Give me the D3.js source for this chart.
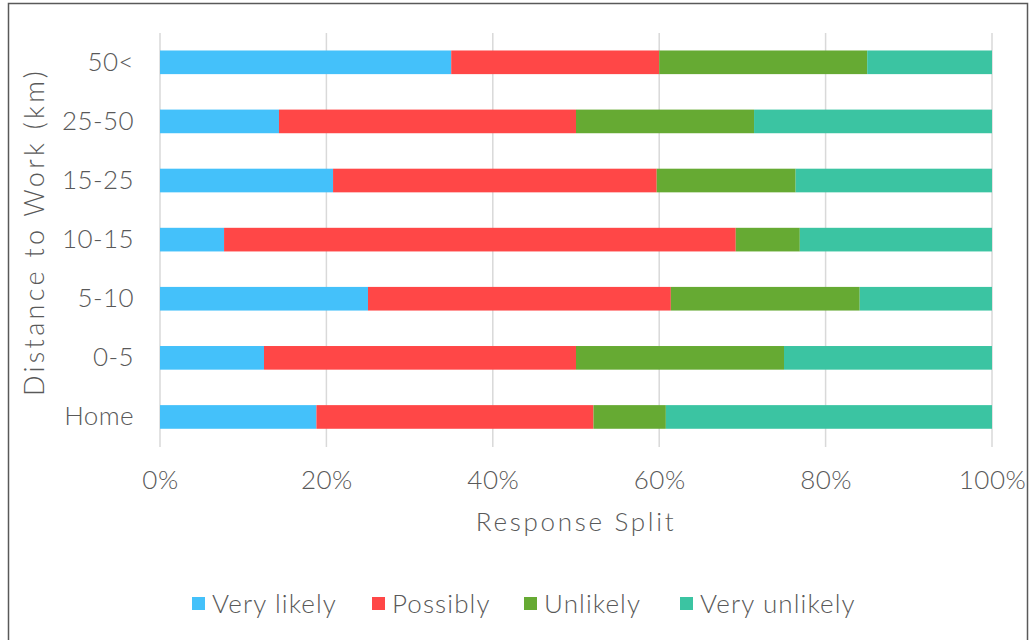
<!DOCTYPE html>
<html>
<head>
<meta charset="utf-8">
<script src="https://cdn.jsdelivr.net/npm/d3@7"></script>
<style>
  html, body { margin: 0; padding: 0; background: #fff; }
  svg { display: block; }
  text { font-family: Lato, "Open Sans", sans-serif; font-weight: 300; fill: #595959; }
</style>
</head>
<body>
<svg id="chart" width="1032" height="640"></svg>
<script>
const categories = ["Home", "0-5", "5-10", "10-15", "15-25", "25-50", "50<"];
const seriesNames = ["Very likely", "Possibly", "Unlikely", "Very unlikely"];
const veryLikely   = [18.8, 12.5, 25.0,  7.7, 20.8, 14.3, 35.0];
const possibly     = [33.3, 37.5, 36.4, 61.5, 38.9, 35.7, 25.0];
const unlikely     = [ 8.7, 25.0, 22.7,  7.7, 16.7, 21.4, 25.0];
const veryUnlikely = [39.2, 25.0, 15.9, 23.1, 23.6, 28.6, 15.0];
const tickValues = [0, 20, 40, 60, 80, 100];
const colors = ["#44C1FA", "#FF4747", "#66AA33", "#3BC4A2"];

const rows = categories.map((c, i) => ({
  category: c,
  "Very likely": veryLikely[i],
  "Possibly": possibly[i],
  "Unlikely": unlikely[i],
  "Very unlikely": veryUnlikely[i]
}));

const svg = d3.select("#chart");

// outer border
svg.append("rect")
  .attr("x", 8.5).attr("y", 3.5).attr("width", 1019).attr("height", 640)
  .attr("fill", "none").attr("stroke", "#595959").attr("stroke-width", 1.5);

const x = d3.scaleLinear().domain([0, 100]).range([160, 992]);
const y = d3.scaleBand()
  .domain(categories.slice().reverse())
  .range([32.75, 446.5])
  .paddingInner(0.6).paddingOuter(0.3);
const color = d3.scaleOrdinal().domain(seriesNames).range(colors);

// gridlines
svg.append("g").selectAll("line").data(tickValues).join("line")
  .attr("x1", d => x(d)).attr("x2", d => x(d))
  .attr("y1", 33).attr("y2", 447)
  .attr("stroke", "#D9D9D9").attr("stroke-width", 1.5);

// bars
const stacked = d3.stack().keys(seriesNames)(rows);
svg.append("g").selectAll("g").data(stacked).join("g")
  .attr("fill", d => color(d.key))
  .selectAll("rect").data(d => d).join("rect")
  .attr("x", d => x(d[0]))
  .attr("y", d => y(d.data.category))
  .attr("width", d => x(d[1]) - x(d[0]))
  .attr("height", y.bandwidth());

// x axis labels
const xAxis = d3.axisBottom(x).tickValues(tickValues).tickSize(0).tickPadding(0)
  .tickFormat(d => d + "%");
const gx = svg.append("g").attr("transform", "translate(0,471)").call(xAxis);
gx.select(".domain").remove();
gx.selectAll("text").attr("font-size", 26).attr("fill", "#595959")
  .attr("font-family", "Lato, sans-serif").attr("font-weight", 300)
  .attr("letter-spacing", 0.5).attr("dy", "0.71em");

// y axis labels
const yAxis = d3.axisLeft(y).tickSize(0).tickPadding(0);
const gy = svg.append("g").attr("transform", "translate(134,0)").call(yAxis);
gy.select(".domain").remove();
gy.selectAll("text").attr("font-size", 26).attr("fill", "#595959")
  .attr("font-family", "Lato, sans-serif").attr("font-weight", 300)
  .attr("letter-spacing", 0.4);

// axis titles
svg.append("text")
  .attr("x", 576).attr("y", 531)
  .attr("text-anchor", "middle").attr("font-size", 26)
  .attr("letter-spacing", 2.7)
  .text("Response Split");
svg.append("text")
  .attr("transform", "translate(44,232) rotate(-90)")
  .attr("text-anchor", "middle").attr("font-size", 27)
  .attr("letter-spacing", 3.3)
  .text("Distance to Work (km)");

// legend
const legendX = [192, 372, 524, 680];
const lg = svg.append("g").selectAll("g").data(seriesNames).join("g")
  .attr("transform", (d, i) => `translate(${legendX[i]},0)`);
lg.append("rect").attr("x", 0).attr("y", 597).attr("width", 13).attr("height", 13)
  .attr("fill", d => color(d));
lg.append("text").attr("x", 20).attr("y", 613).attr("font-size", 26)
  .attr("letter-spacing", 1.1).text(d => d);
</script>
</body>
</html>
